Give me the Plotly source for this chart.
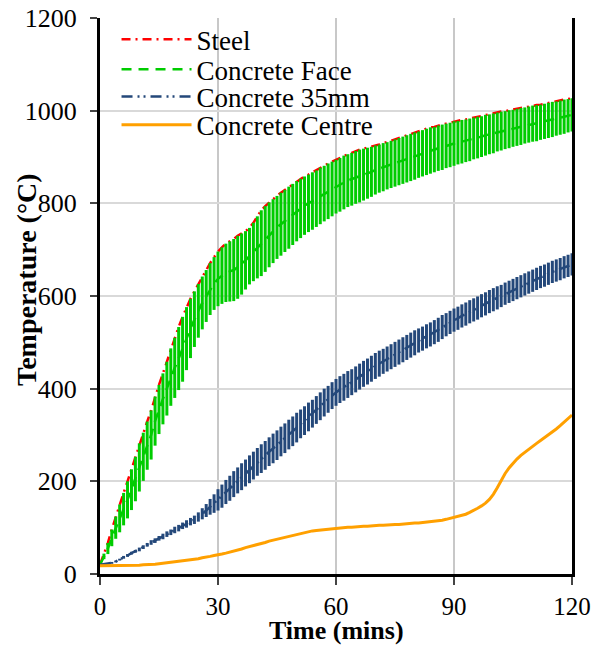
import plotly.graph_objects as go

time_min = list(range(0, 121))

steel = [20, 44, 67, 96, 124, 150, 175, 200, 226, 253,
         282, 305, 329, 353, 383, 408, 433, 458, 487, 510,
         533, 555, 576, 594, 610, 626, 642, 656, 671, 684,
         696, 705, 713, 718, 723, 730, 735, 740, 747, 758,
         772, 785, 794, 802, 809, 816, 823, 829, 836, 842,
         848, 853, 858, 862, 867, 871, 877, 881, 886, 890,
         894, 898, 903, 906, 909, 913, 916, 918, 920, 922,
         925, 927, 930, 932, 935, 938, 941, 944, 947, 950,
         953, 955, 958, 961, 964, 965, 968, 970, 972, 974,
         977, 978, 980, 981, 983, 985, 987, 988, 991, 992,
         994, 996, 998, 999, 1001, 1002, 1004, 1006, 1007, 1009,
         1011, 1012, 1013, 1015, 1017, 1019, 1020, 1022, 1024, 1025,
         1027]

face = [20, 38, 55, 78, 100, 120, 140, 160, 182, 205,
        230, 253, 277, 300, 330, 355, 378, 400, 425, 445,
        465, 485, 508, 530, 550, 568, 585, 600, 615, 627,
        637, 644, 650, 653, 656, 662, 669, 677, 686, 695,
        705, 714, 723, 732, 740, 748, 755, 762, 769, 776,
        783, 789, 795, 800, 805, 810, 816, 821, 826, 831,
        836, 840, 845, 849, 852, 856, 859, 862, 865, 868,
        872, 875, 878, 881, 884, 887, 890, 893, 896, 899,
        902, 905, 908, 911, 914, 916, 919, 921, 924, 926,
        929, 931, 933, 935, 937, 940, 942, 944, 947, 949,
        951, 954, 956, 958, 960, 962, 964, 966, 968, 970,
        972, 973, 975, 977, 979, 981, 983, 985, 987, 989,
        991]

face_err = [0, 6, 12, 18, 24, 30, 35, 40, 44, 48,
            52, 52, 52, 53, 53, 53, 55, 58, 62, 65,
            68, 70, 68, 64, 60, 58, 57, 56, 56, 57,
            59, 61, 63, 65, 67, 68, 66, 63, 61, 63,
            67, 71, 71, 70, 69, 68, 68, 67, 67, 66,
            65, 64, 63, 62, 62, 61, 61, 60, 60, 59,
            58, 58, 58, 57, 57, 57, 57, 56, 55, 54,
            53, 52, 52, 51, 51, 51, 51, 51, 51, 51,
            51, 50, 50, 50, 50, 49, 49, 49, 48, 48,
            48, 47, 47, 46, 46, 45, 45, 44, 44, 43,
            43, 42, 42, 41, 41, 40, 40, 40, 39, 39,
            39, 39, 38, 38, 38, 38, 37, 37, 37, 36,
            36]

c35 = [20, 21, 22, 24, 27, 31, 36, 40, 45, 49,
       53, 58, 63, 68, 72, 77, 81, 86, 90, 95,
       99, 104, 108, 113, 117, 123, 130, 137, 145, 152,
       160, 168, 177, 185, 194, 202, 210, 218, 226, 234,
       242, 249, 256, 264, 271, 278, 286, 293, 301, 308,
       316, 324, 331, 339, 346, 354, 362, 370, 377, 385,
       392, 398, 403, 409, 414, 420, 426, 432, 437, 443,
       449, 454, 459, 464, 469, 474, 479, 484, 489, 494,
       499, 504, 508, 513, 517, 522, 527, 533, 538, 543,
       548, 552, 557, 561, 566, 570, 574, 579, 583, 588,
       592, 596, 600, 605, 609, 613, 617, 621, 625, 629,
       633, 637, 641, 644, 648, 652, 655, 658, 662, 665,
       668]

c35_err = [0, 1, 1, 2, 2, 2, 3, 3, 3, 3,
           4, 4, 4, 5, 5, 5, 6, 6, 6, 7,
           7, 7, 8, 8, 9, 10, 12, 14, 17, 20,
           23, 25, 26, 27, 28, 28, 29, 29, 30, 30,
           30, 31, 31, 31, 32, 32, 32, 32, 32, 32,
           32, 31, 31, 31, 30, 30, 30, 30, 29, 29,
           29, 29, 29, 29, 28, 28, 28, 28, 28, 28,
           28, 28, 27, 27, 27, 27, 27, 27, 27, 27,
           27, 26, 26, 26, 26, 26, 26, 26, 25, 25,
           25, 25, 25, 25, 25, 25, 25, 25, 25, 25,
           25, 25, 24, 24, 24, 24, 24, 24, 24, 24,
           24, 24, 24, 24, 24, 24, 24, 24, 24, 24,
           24]

centre = [18, 18, 18, 18, 18, 18, 18, 18, 19, 19,
          19, 20, 20, 21, 21, 22, 23, 24, 25, 26,
          27, 28, 29, 30, 32, 33, 35, 36, 38, 40,
          41, 43, 45, 47, 50, 52, 54, 57, 59, 62,
          64, 66, 68, 71, 73, 75, 77, 79, 82, 84,
          86, 88, 90, 91, 93, 94, 95, 96, 97, 98,
          99, 100, 100, 101, 101, 102, 102, 103, 103, 104,
          104, 105, 105, 106, 106, 107, 107, 108, 108, 109,
          110, 110, 111, 112, 112, 114, 115, 116, 118, 120,
          122, 124, 126, 129, 133, 137, 142, 147, 153, 161,
          172, 186, 202, 217, 229, 239, 248, 256, 263, 270,
          276, 282, 288, 294, 300, 306, 313, 320, 327, 335,
          343]

x_ticks = [0, 30, 60, 90, 120]
y_ticks = [0, 200, 400, 600, 800, 1000, 1200]

FONT = "Liberation Serif, Times New Roman, serif"

fig = go.Figure()
fig.add_trace(go.Scatter(
    x=time_min, y=steel, name="Steel", mode="lines", legend="legend",
    line=dict(color="#FF0000", width=2.5, dash="9px,5px,2px,5px")))
fig.add_trace(go.Scatter(
    x=time_min, y=face, name="Concrete Face", mode="lines", legend="legend2",
    line=dict(color="#00CC00", width=2.5, dash="10px,7px"),
    error_y=dict(type="data", array=face_err, visible=True,
                 color="#00CC00", thickness=3, width=0)))
fig.add_trace(go.Scatter(
    x=time_min, y=c35, name="Concrete 35mm", mode="lines", legend="legend3",
    line=dict(color="#24487A", width=2.5, dash="11px,5px,2px,4px,2px,5px"),
    error_y=dict(type="data", array=c35_err, visible=True,
                 color="#24487A", thickness=3, width=0)))
fig.add_trace(go.Scatter(
    x=time_min, y=centre, name="Concrete Centre", mode="lines", legend="legend4",
    line=dict(color="#FFA000", width=3)))


def leg(ycenter):
    return dict(x=0.035, y=ycenter, xanchor="left", yanchor="middle",
                bgcolor="rgba(0,0,0,0)",
                font=dict(family=FONT, size=27, color="black"),
                itemwidth=70)


fig.update_layout(
    width=593, height=648,
    margin=dict(l=100, r=21, t=18, b=74),
    paper_bgcolor="white", plot_bgcolor="white",
    font=dict(family=FONT, size=25, color="black"),
    showlegend=True,
    legend=leg(0.9610),
    legend2=leg(0.9070),
    legend3=leg(0.8579),
    legend4=leg(0.8070),
    annotations=[
        dict(text="<b>Temperature (°C)</b>", xref="paper", yref="paper",
             x=-0.1545, y=0.529, xanchor="center", yanchor="middle",
             textangle=-90, showarrow=False,
             font=dict(family=FONT, size=28, color="black")),
        dict(text="<b>Time (mins)</b>", xref="paper", yref="paper",
             x=0.5, y=-0.101, xanchor="center", yanchor="middle",
             showarrow=False, font=dict(family=FONT, size=26, color="black")),
    ],
)
fig.update_xaxes(
    range=[0, 120], tickvals=x_ticks, ticktext=[str(v) for v in x_ticks],
    showgrid=True, gridcolor="#C8C8C8", gridwidth=1.5,
    showline=True, linecolor="black", linewidth=3, mirror=False,
    ticks="outside", ticklen=8, tickwidth=1.5, tickcolor="#444",
    zeroline=False, automargin=False,
    tickfont=dict(family=FONT, size=25, color="black"))
fig.update_yaxes(
    range=[0, 1200], tickvals=y_ticks, ticktext=[str(v) for v in y_ticks],
    showgrid=True, gridcolor="#D9D9D9", gridwidth=1.5,
    showline=True, linecolor="black", linewidth=3, mirror=True,
    ticks="outside", ticklen=7, tickwidth=1.5, tickcolor="#444",
    zeroline=False, automargin=False, ticklabelstandoff=8,
    tickfont=dict(family=FONT, size=26, color="black"))

fig.write_html("out.html")
